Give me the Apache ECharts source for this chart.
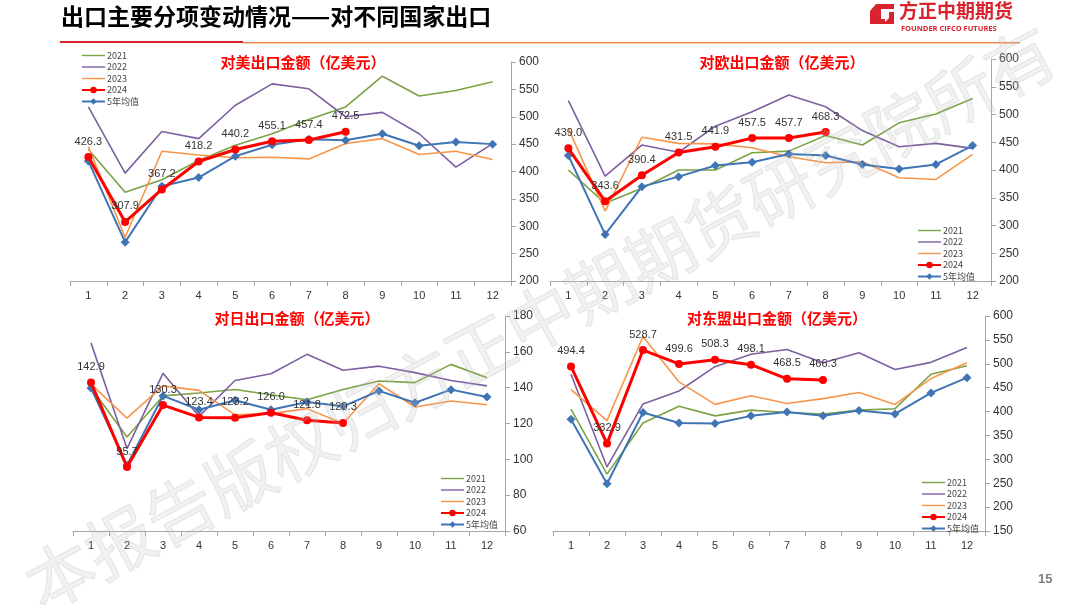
<!DOCTYPE html>
<html><head><meta charset="utf-8">
<script src="https://cdn.jsdelivr.net/npm/echarts@6/dist/echarts.min.js"></script>
<style>html,body{margin:0;padding:0;background:#fff;}#c{width:1080px;height:608px;}</style>
</head><body><div id="c"></div>
<script>
const months = ['1','2','3','4','5','6','7','8','9','10','11','12'];
const seriesNames = ['2021','2022','2023','2024','5年均值'];

// 对美
const us2021 = [440, 362, 385, 420, 448, 469, 495, 518, 574, 538, 548, 564];
const us2022 = [518, 397, 473, 460, 521, 560, 551, 500, 508, 469, 408, 451];
const us2023 = [445, 280, 437, 430, 425, 426, 423, 451, 460, 431, 437, 422];
const us2024 = [426.3, 307.9, 367.2, 418.2, 440.2, 455.1, 457.4, 472.5];
const usAvg  = [419, 271, 373, 389, 428, 449, 459, 457, 469, 447, 454, 450];

// 对欧
const eu2021 = [400, 340, 367, 400, 400, 431, 434, 462, 445, 485, 501, 529];
const eu2022 = [525, 389, 445, 432, 479, 505, 535, 514, 471, 442, 448, 439];
const eu2023 = [475, 326, 459, 448, 447, 440, 424, 413, 415, 386, 383, 428];
const eu2024 = [439.0, 343.6, 390.4, 431.5, 441.9, 457.5, 457.7, 468.3];
const euAvg  = [426, 284, 370, 388, 408, 414, 429, 426, 410, 402, 410, 444];

// 对日
const jp2021 = [140, 112.5, 135.4, 137, 139, 136, 133.3, 139, 143.7, 142.8, 153, 145.6];
const jp2022 = [165, 106, 148, 124, 144, 147.8, 158.6, 149.7, 152, 148.4, 144, 141];
const jp2023 = [142, 123, 141, 138.5, 124.8, 125.5, 128.3, 120, 142.2, 129.2, 132.6, 130.5];
const jp2024 = [142.9, 95.7, 130.3, 123.4, 123.2, 126.0, 121.8, 120.3];
const jpAvg  = [139.8, 96.7, 135.4, 127.7, 133, 127.7, 132, 129.6, 138.2, 131.6, 138.9, 134.8];

// 对东盟
const as2021 = [405, 269, 376, 411, 391, 403, 398, 395, 403, 406, 478, 496];
const as2022 = [478, 284, 416, 443, 494, 520, 530, 502, 523, 488, 503, 534];
const as2023 = [446, 381, 557, 462, 415, 433, 417, 427, 440, 415, 469, 502];
const as2024 = [494.4, 332.9, 528.7, 499.6, 508.3, 498.1, 468.5, 466.3];
const asAvg  = [384, 249, 398, 376, 375, 391, 399, 391, 402, 395, 439, 471];

const yTicks = [
  {min:200, max:600, interval:50},
  {min:200, max:600, interval:50},
  {min:60, max:180, interval:20},
  {min:150, max:600, interval:50}
];
const titles = ['对美出口金额（亿美元）','对欧出口金额（亿美元）','对日出口金额（亿美元）','对东盟出口金额（亿美元）'];
const dataSets = [
  [us2021, us2022, us2023, us2024, usAvg],
  [eu2021, eu2022, eu2023, eu2024, euAvg],
  [jp2021, jp2022, jp2023, jp2024, jpAvg],
  [as2021, as2022, as2023, as2024, asAvg]
];

const grids = [
  {left:70, top:62, width:441, height:219},
  {left:550, top:59, width:441, height:222},
  {left:73, top:316, width:432, height:215},
  {left:553, top:316, width:432, height:215}
];
const titlePos = [[303,62],[782,62],[297,318],[777,318]];
const legendPos = [[76,46],[912,221],[435,469],[916,473]];

const colors = ['#7BA344','#7D60A0','#F7964A','#FF0000','#3F74B5'];
const fontCJK = '"Noto Sans CJK SC","Noto Sans",sans-serif';
const lineIcon = 'path://M0,3.3H23V4.7H0Z';

const xAxes = [], yAxes = [], series = [], legends = [], graphics = [];
grids.forEach((g, i) => {
  xAxes.push({
    type:'category', gridIndex:i, data:months, boundaryGap:true,
    axisLine:{lineStyle:{color:'#A6A6A6'}},
    axisTick:{show:true, interval:0, length:5, lineStyle:{color:'#A6A6A6'}},
    axisLabel:{color:'#333', fontSize:11, margin:9, fontFamily:'Arial, "Liberation Sans", sans-serif'}
  });
  yAxes.push({
    type:'value', gridIndex:i, position:'right', min:yTicks[i].min, max:yTicks[i].max, interval:yTicks[i].interval,
    axisLine:{show:true, lineStyle:{color:'#A6A6A6'}},
    axisTick:{show:true, length:5, lineStyle:{color:'#A6A6A6'}},
    splitLine:{show:false},
    axisLabel:{color:'#333', fontSize:12, margin:8, fontFamily:'Arial, "Liberation Sans", sans-serif'}
  });
  const ds = dataSets[i];
  seriesNames.forEach((n, k) => {
    const s = {
      name:n, type:'line', xAxisIndex:i, yAxisIndex:i, data:ds[k],
      lineStyle:{color:colors[k], width:1.6}, itemStyle:{color:colors[k]},
      showSymbol:false, symbol:'none', z:2+k, animation:false
    };
    if (k === 3) {
      s.symbol = 'circle'; s.showSymbol = true; s.symbolSize = 8;
      s.lineStyle.width = 3; s.z = 10;
      s.label = {show:true, position:'top', distance:6, color:'#333', fontSize:11,
        fontFamily:'Arial, "Liberation Sans", sans-serif', formatter:p=>p.value.toFixed(1)};
    }
    if (k === 4) {
      s.symbol = 'diamond'; s.showSymbol = true; s.symbolSize = 9;
      s.lineStyle.width = 2; s.z = 8;
    }
    series.push(s);
  });
  legends.push({
    orient:'vertical', left:legendPos[i][0], top:legendPos[i][1],
    data:[
      {name:'2021', icon:lineIcon},
      {name:'2022', icon:lineIcon},
      {name:'2023', icon:lineIcon},
      {name:'2024'},
      {name:'5年均值'}
    ],
    itemWidth:23, itemHeight:8, itemGap:2.5, selectedMode:false,
    textStyle:{color:'#444', fontSize:9, fontFamily:fontCJK, padding:[0,0,0,-3]}
  });
  graphics.push({
    type:'text', x:titlePos[i][0], y:titlePos[i][1], z:20,
    style:{text:titles[i], fill:'#FF0000', font:'bold 15px '+fontCJK, textAlign:'center', textVerticalAlign:'middle'}
  });
});

// header
graphics.push(
  {type:'text', left:61, top:5, style:{text:'出口主要分项变动情况——对不同国家出口', fill:'#000', font:'bold 23px '+fontCJK}},
  {type:'rect', shape:{x:60, y:41, width:183, height:2}, style:{fill:'#D9232E'}},
  {type:'rect', shape:{x:243, y:42, width:777, height:1.5}, style:{fill:'#F08A4B'}},
  {type:'polygon', shape:{points:[[876,4],[894,4],[894,9],[881,9],[881,19],[885,19],[885,24],[870,24],[870,11]]}, style:{fill:'#D9232E'}},
  {type:'polygon', shape:{points:[[889,12],[894,12],[894,24],[883,24],[889,18]]}, style:{fill:'#D9232E'}},
  {type:'text', left:899, top:1, style:{text:'方正中期期货', fill:'#D9232E', font:'bold 19px '+fontCJK}},
  {type:'text', left:901, top:25, style:{text:'FOUNDER CIFCO FUTURES', fill:'#D9232E', font:'bold 7.5px "Open Sans", sans-serif'}},
  {type:'text', left:1038, top:573, style:{text:'15', fill:'#7F7F7F', font:'bold 13px "Liberation Sans Narrow", Arial, sans-serif'}},
  {type:'text', x:540, y:318, rotation:0.49, z:50,
    style:{text:'本报告版权归方正中期期货研究院所有', fill:'rgba(190,190,190,0.22)', font:'68px '+fontCJK,
      textAlign:'center', textVerticalAlign:'middle', stroke:'rgba(170,170,170,0.25)', lineWidth:1}}
);

const chart = echarts.init(document.getElementById('c'), null, {renderer:'canvas'});
chart.setOption({
  animation:false,
  backgroundColor:'#fff',
  grid:grids, xAxis:xAxes, yAxis:yAxes, series:series, legend:legends, graphic:graphics
});
</script></body></html>
